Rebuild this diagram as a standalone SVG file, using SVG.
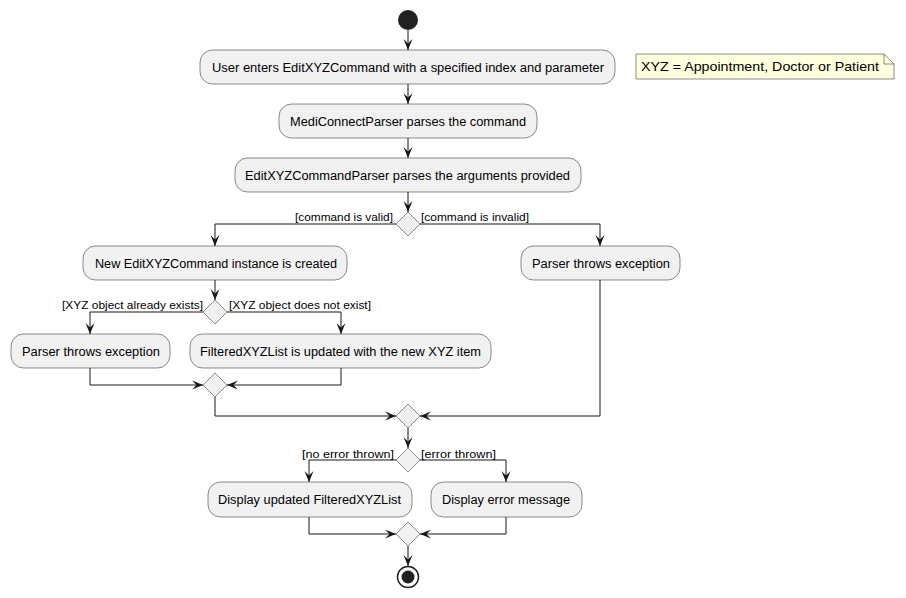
<svg xmlns="http://www.w3.org/2000/svg" width="906" height="598" viewBox="0 0 906 598">
<defs>
<style>
.box{fill:#F1F1F1;stroke:#181818;stroke-width:0.5}
.dia{fill:#F1F1F1;stroke:#181818;stroke-width:0.5}
.t{font-family:"Liberation Sans",Arial,sans-serif;font-size:12.5px;fill:#000}
.l{font-family:"Liberation Sans",Arial,sans-serif;font-size:11px;fill:#000}
.e{fill:none;stroke:#181818;stroke-width:1}
</style>
<marker id="ah" viewBox="0 0 11 10" refX="11" refY="5" markerWidth="11" markerHeight="10" markerUnits="userSpaceOnUse" orient="auto">
<path d="M0,0.5 L11,5 L0,9.5 L4.5,5 Z" fill="#181818"/>
</marker>
</defs>
<rect width="906" height="598" fill="#FFFFFF"/>
<g id="edges">
<path class="e" d="M408,30 V50" marker-end="url(#ah)"/>
<path class="e" d="M408,84 V104" marker-end="url(#ah)"/>
<path class="e" d="M408,138 V158" marker-end="url(#ah)"/>
<path class="e" d="M408,192 V212" marker-end="url(#ah)"/>
<path class="e" d="M396,224 H215 V246" marker-end="url(#ah)"/>
<path class="e" d="M420,224 H600 V246" marker-end="url(#ah)"/>
<path class="e" d="M215,280 V300" marker-end="url(#ah)"/>
<path class="e" d="M203,312 H90 V334" marker-end="url(#ah)"/>
<path class="e" d="M227,312 H341 V334" marker-end="url(#ah)"/>
<path class="e" d="M90,368 V385 H203" marker-end="url(#ah)"/>
<path class="e" d="M341,368 V385 H227" marker-end="url(#ah)"/>
<path class="e" d="M215,397 V416 H396" marker-end="url(#ah)"/>
<path class="e" d="M600,280 V416 H420" marker-end="url(#ah)"/>
<path class="e" d="M408,428 V448" marker-end="url(#ah)"/>
<path class="e" d="M396,460 H309 V482" marker-end="url(#ah)"/>
<path class="e" d="M420,460 H506 V482" marker-end="url(#ah)"/>
<path class="e" d="M309,517 V534 H396" marker-end="url(#ah)"/>
<path class="e" d="M506,517 V534 H420" marker-end="url(#ah)"/>
<path class="e" d="M408,546 V566" marker-end="url(#ah)"/>
</g>
<g id="labels">
<text class="l" x="295" y="221" textLength="98" lengthAdjust="spacingAndGlyphs">[command is valid]</text>
<text class="l" x="421" y="221" textLength="108" lengthAdjust="spacingAndGlyphs">[command is invalid]</text>
<text class="l" x="62" y="309" textLength="141" lengthAdjust="spacingAndGlyphs">[XYZ object already exists]</text>
<text class="l" x="229" y="309" textLength="142" lengthAdjust="spacingAndGlyphs">[XYZ object does not exist]</text>
<text class="l" x="302" y="458" textLength="92" lengthAdjust="spacingAndGlyphs">[no error thrown]</text>
<text class="l" x="421" y="458" textLength="75" lengthAdjust="spacingAndGlyphs">[error thrown]</text>
</g>
<g id="start"><circle cx="408" cy="20" r="10" fill="#222222"/></g>
<g id="n1"><rect class="box" x="200" y="50" width="415" height="34" rx="12.5"/><text class="t" x="212" y="72" textLength="392" lengthAdjust="spacingAndGlyphs">User enters EditXYZCommand with a specified index and parameter</text></g>
<g id="n2"><rect class="box" x="279" y="104" width="258" height="34" rx="12.5"/><text class="t" x="290" y="126" textLength="236" lengthAdjust="spacingAndGlyphs">MediConnectParser parses the command</text></g>
<g id="n3"><rect class="box" x="235" y="158" width="346" height="34" rx="12.5"/><text class="t" x="245" y="180" textLength="325" lengthAdjust="spacingAndGlyphs">EditXYZCommandParser parses the arguments provided</text></g>
<g id="d1"><polygon class="dia" points="408,212 420,224 408,236 396,224"/></g>
<g id="n4"><rect class="box" x="83" y="246" width="264" height="34" rx="12.5"/><text class="t" x="95" y="268" textLength="242" lengthAdjust="spacingAndGlyphs">New EditXYZCommand instance is created</text></g>
<g id="n5"><rect class="box" x="521" y="246" width="159" height="34" rx="12.5"/><text class="t" x="532" y="268" textLength="138" lengthAdjust="spacingAndGlyphs">Parser throws exception</text></g>
<g id="d2"><polygon class="dia" points="215,300 227,312 215,324 203,312"/></g>
<g id="n6"><rect class="box" x="11" y="334" width="159" height="34" rx="12.5"/><text class="t" x="22" y="356" textLength="138" lengthAdjust="spacingAndGlyphs">Parser throws exception</text></g>
<g id="n7"><rect class="box" x="190" y="334" width="301" height="34" rx="12.5"/><text class="t" x="200" y="356" textLength="281" lengthAdjust="spacingAndGlyphs">FilteredXYZList is updated with the new XYZ item</text></g>
<g id="m1"><polygon class="dia" points="215,373 227,385 215,397 203,385"/></g>
<g id="m2"><polygon class="dia" points="408,404 420,416 408,428 396,416"/></g>
<g id="d3"><polygon class="dia" points="408,448 420,460 408,472 396,460"/></g>
<g id="n8"><rect class="box" x="208" y="482" width="204" height="35" rx="12.5"/><text class="t" x="218" y="504" textLength="183" lengthAdjust="spacingAndGlyphs">Display updated FilteredXYZList</text></g>
<g id="n9"><rect class="box" x="431" y="482" width="151" height="35" rx="12.5"/><text class="t" x="442" y="504" textLength="128" lengthAdjust="spacingAndGlyphs">Display error message</text></g>
<g id="m3"><polygon class="dia" points="408,522 420,534 408,546 396,534"/></g>
<g id="end"><circle cx="408" cy="577" r="10.5" fill="none" stroke="#222222" stroke-width="1.5"/><circle cx="408" cy="577" r="6.5" fill="#222222"/></g>
<g id="note"><path d="M636,54 H884 L894,64 V79 H636 Z" fill="#FEFFDD" stroke="#181818" stroke-width="0.5"/><path d="M884,54 V64 H894" fill="none" stroke="#181818" stroke-width="0.5"/><text class="t" x="641" y="71" style="font-size:13px" textLength="238" lengthAdjust="spacingAndGlyphs">XYZ = Appointment, Doctor or Patient</text></g>
</svg>
